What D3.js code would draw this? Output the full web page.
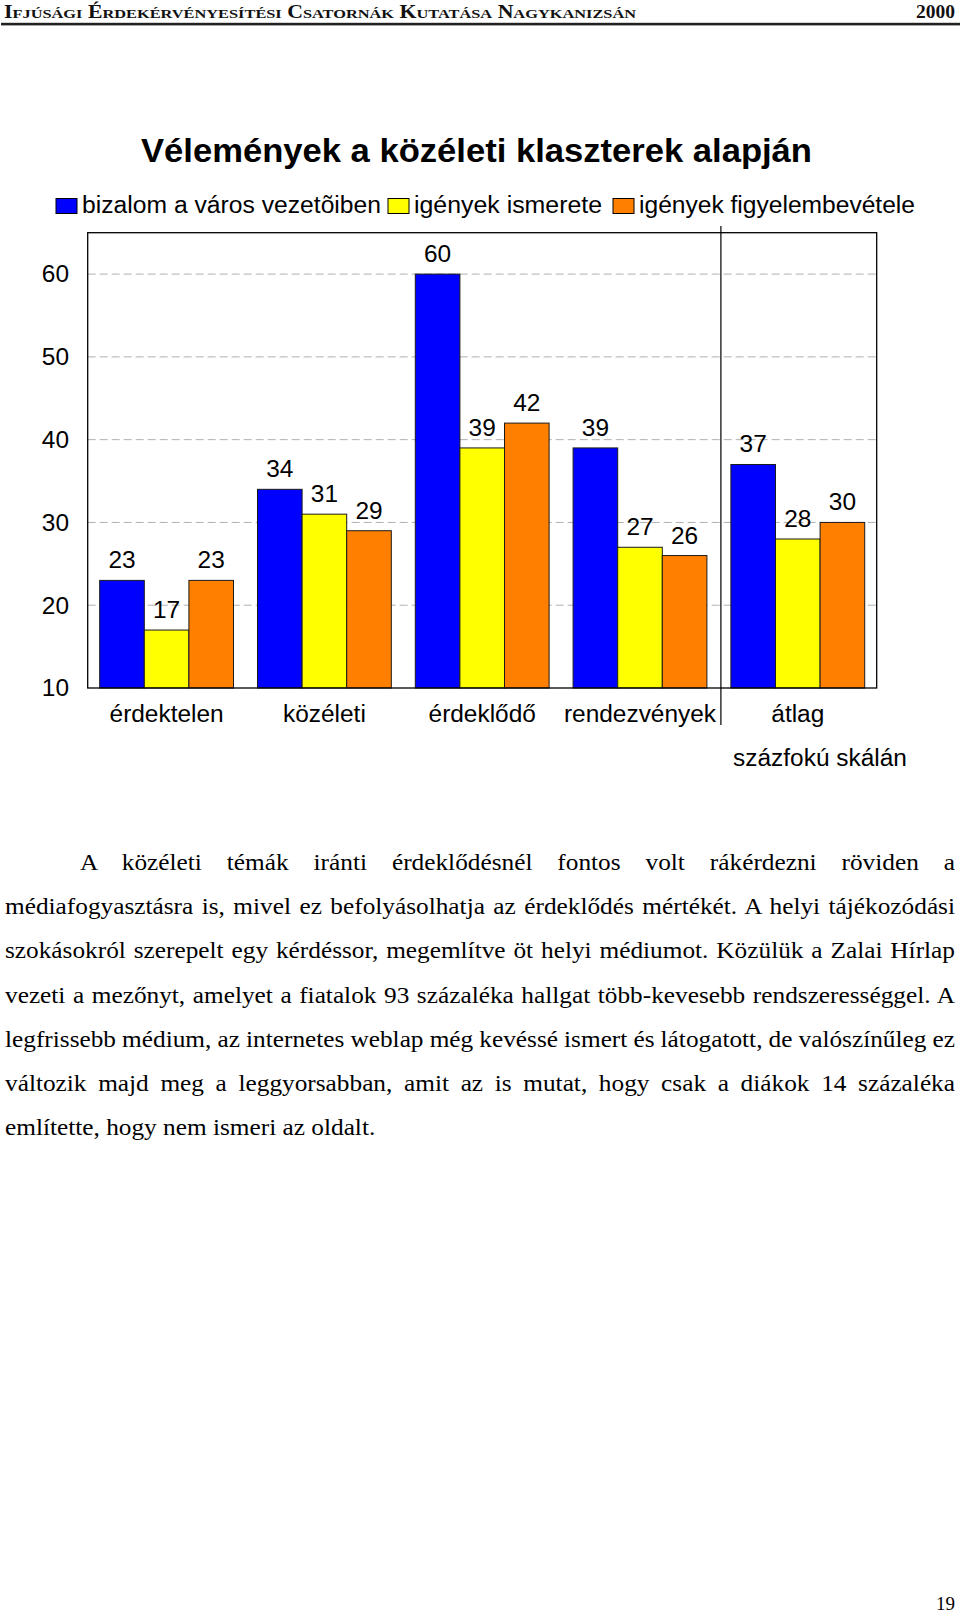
<!DOCTYPE html>
<html>
<head>
<meta charset="utf-8">
<script src="https://cdn.jsdelivr.net/npm/d3@7"></script>
<style>
  html, body { margin: 0; padding: 0; background: #fff; }
  svg { display: block; }
</style>
</head>
<body>
<svg id="page" width="960" height="1613"></svg>
<script>
// ---------- DATA ----------
const categories = ["érdektelen", "közéleti", "érdeklődő", "rendezvények", "átlag"];
const seriesNames = ["bizalom a város vezetõiben", "igények ismerete", "igények figyelembevétele"];
const bizalom = [23, 34, 60, 39, 37];
const ismerete = [17, 31, 39, 27, 28];
const figyelembe = [23, 29, 42, 26, 30];
const yTicks = [10, 20, 30, 40, 50, 60];
const chartTitle = "Vélemények a közéleti klaszterek alapján";
const subLabel = "százfokú skálán";
const headerText = "IFJÚSÁGI ÉRDEKÉRVÉNYESÍTÉSI CSATORNÁK KUTATÁSA NAGYKANIZSÁN";
const headerYear = "2000";
const pageNumber = "19";
const paragraphLines = [
  "A közéleti témák iránti érdeklődésnél fontos volt rákérdezni röviden a",
  "médiafogyasztásra is, mivel ez befolyásolhatja az érdeklődés mértékét. A helyi tájékozódási",
  "szokásokról szerepelt egy kérdéssor, megemlítve öt helyi médiumot. Közülük a Zalai Hírlap",
  "vezeti a mezőnyt, amelyet a fiatalok 93 százaléka hallgat több-kevesebb rendszerességgel. A",
  "legfrissebb médium, az internetes weblap még kevéssé ismert és látogatott, de valószínűleg ez",
  "változik majd meg a leggyorsabban, amit az is mutat, hogy csak a diákok 14 százaléka",
  "említette, hogy nem ismeri az oldalt."
];

// ---------- STYLE / LAYOUT ----------
const colors = ["#0000FF", "#FFFF00", "#FF8000"];
const SANS = "'Liberation Sans', Arial, Helvetica, sans-serif";
const SERIF = "'Liberation Serif', 'Times New Roman', Times, serif";
const SX = 1.04; // horizontal stretch of the scanned page
const FS = 23.5;
const svg = d3.select("#page");

function stext(parent, x, y, str, o = {}) {
  const t = parent.append("text")
    .attr("transform", `translate(${x},${y}) scale(${o.sx ?? SX},1)`)
    .attr("font-family", o.family || SANS)
    .attr("font-size", o.size || FS)
    .attr("font-weight", o.weight || "normal")
    .attr("text-anchor", o.anchor || "start")
    .attr("fill", o.fill || "#000")
    .text(str);
  return t;
}

// ---------- HEADER ----------
const hdr = svg.append("text")
  .attr("x", 4).attr("y", 18)
  .attr("font-family", SERIF).attr("font-weight", "bold").attr("fill", "#111");
headerText.split(" ").forEach((w, i) => {
  hdr.append("tspan").attr("font-size", 18).text((i ? " " : "") + w[0]);
  hdr.append("tspan").attr("font-size", 13.5).text(w.slice(1));
});
hdr.attr("textLength", 632).attr("lengthAdjust", "spacingAndGlyphs");
svg.append("text").attr("x", 955).attr("y", 18).attr("text-anchor", "end")
  .attr("font-family", SERIF).attr("font-weight", "bold").attr("font-size", 18)
  .attr("fill", "#111")
  .attr("textLength", 39).attr("lengthAdjust", "spacingAndGlyphs")
  .text(headerYear);
svg.append("rect").attr("x", 1).attr("y", 22.8).attr("width", 959).attr("height", 2.6).attr("fill", "#222");

// ---------- CHART ----------
const plot = { left: 87.7, right: 876.7, top: 232.7, bottom: 688 };
const y = d3.scaleLinear().domain([10, 65]).range([plot.bottom, plot.top]);
const pad = 0.152;
const x0 = d3.scaleBand().domain(categories).range([plot.left, plot.right])
  .paddingInner(pad).paddingOuter(pad / 2);
const x1 = d3.scaleBand().domain(d3.range(3)).range([0, x0.bandwidth()]);
const series = [bizalom, ismerete, figyelembe];

// title
svg.append("text").attr("x", 476.5).attr("y", 162)
  .attr("text-anchor", "middle").attr("font-family", SANS).attr("font-weight", "bold")
  .attr("font-size", 34).attr("textLength", 671).attr("lengthAdjust", "spacingAndGlyphs")
  .text(chartTitle);

// legend
const legendX = [56, 388, 613];
const legendW = [299, 188, 276];
seriesNames.forEach((name, i) => {
  svg.append("rect").attr("x", legendX[i]).attr("y", 198.5).attr("width", 21).attr("height", 15)
    .attr("fill", colors[i]).attr("stroke", "#000").attr("stroke-width", 1);
  svg.append("text").attr("x", legendX[i] + 26).attr("y", 213)
    .attr("font-family", SANS).attr("font-size", FS)
    .attr("textLength", legendW[i]).attr("lengthAdjust", "spacingAndGlyphs")
    .text(name);
});

// gridlines
svg.append("g").selectAll("line").data(yTicks.filter(t => t > 10)).join("line")
  .attr("x1", plot.left).attr("x2", plot.right)
  .attr("y1", d => y(d)).attr("y2", d => y(d))
  .attr("stroke", "#b0b0b0").attr("stroke-width", 1).attr("stroke-dasharray", "8,4");

// y tick labels
const yAxisG = svg.append("g");
yTicks.forEach(t => {
  stext(yAxisG, 69, y(t) + 8.3, String(t), { anchor: "end" });
});

// bars
const groups = svg.append("g").selectAll("g").data(categories).join("g")
  .attr("transform", d => `translate(${x0(d)},0)`);
groups.selectAll("rect").data((d, ci) => series.map((s, si) => ({ si, v: s[ci] }))).join("rect")
  .attr("x", d => x1(d.si)).attr("width", x1.bandwidth())
  .attr("y", d => y(d.v)).attr("height", d => plot.bottom - y(d.v))
  .attr("fill", d => colors[d.si]).attr("stroke", "#1a1a1a").attr("stroke-width", 1);

// value labels
groups.each(function (c, ci) {
  const g = d3.select(this);
  series.forEach((s, si) => {
    stext(g, x1(si) + x1.bandwidth() / 2, y(s[ci]) - 12, String(s[ci]), { anchor: "middle" });
  });
});

// plot frame
svg.append("rect").attr("x", plot.left).attr("y", plot.top)
  .attr("width", plot.right - plot.left).attr("height", plot.bottom - plot.top)
  .attr("fill", "none").attr("stroke", "#000").attr("stroke-width", 1.3);

// divider between clusters and average
const divX = x0(categories[4]) - x0.step() * pad / 2 + 2;
svg.append("line").attr("x1", divX).attr("x2", divX).attr("y1", 226).attr("y2", 725)
  .attr("stroke", "#000").attr("stroke-width", 1.2);

// category labels
categories.forEach(c => {
  stext(svg, x0(c) + x0.bandwidth() / 2, 721.5, c, { anchor: "middle" });
});
stext(svg, 820, 765.5, subLabel, { anchor: "middle" });

// ---------- PARAGRAPH ----------
const PSX = 1.11;
const lineY0 = 870, lineGap = 44.2;
paragraphLines.forEach((line, i) => {
  const xStart = i === 0 ? 80 : 5;
  const t = stext(svg, xStart, lineY0 + i * lineGap, line,
    { family: SERIF, size: 22.8, sx: PSX });
  if (i < paragraphLines.length - 1) {
    const natural = t.node().getComputedTextLength();
    const spaces = (line.match(/ /g) || []).length;
    const target = (955 - xStart) / PSX;
    if (spaces > 0) t.attr("word-spacing", (target - natural) / spaces);
  }
});

// page number
svg.append("text").attr("x", 955).attr("y", 1610).attr("text-anchor", "end")
  .attr("font-family", SERIF).attr("font-size", 19).text(pageNumber);
</script>
</body>
</html>
